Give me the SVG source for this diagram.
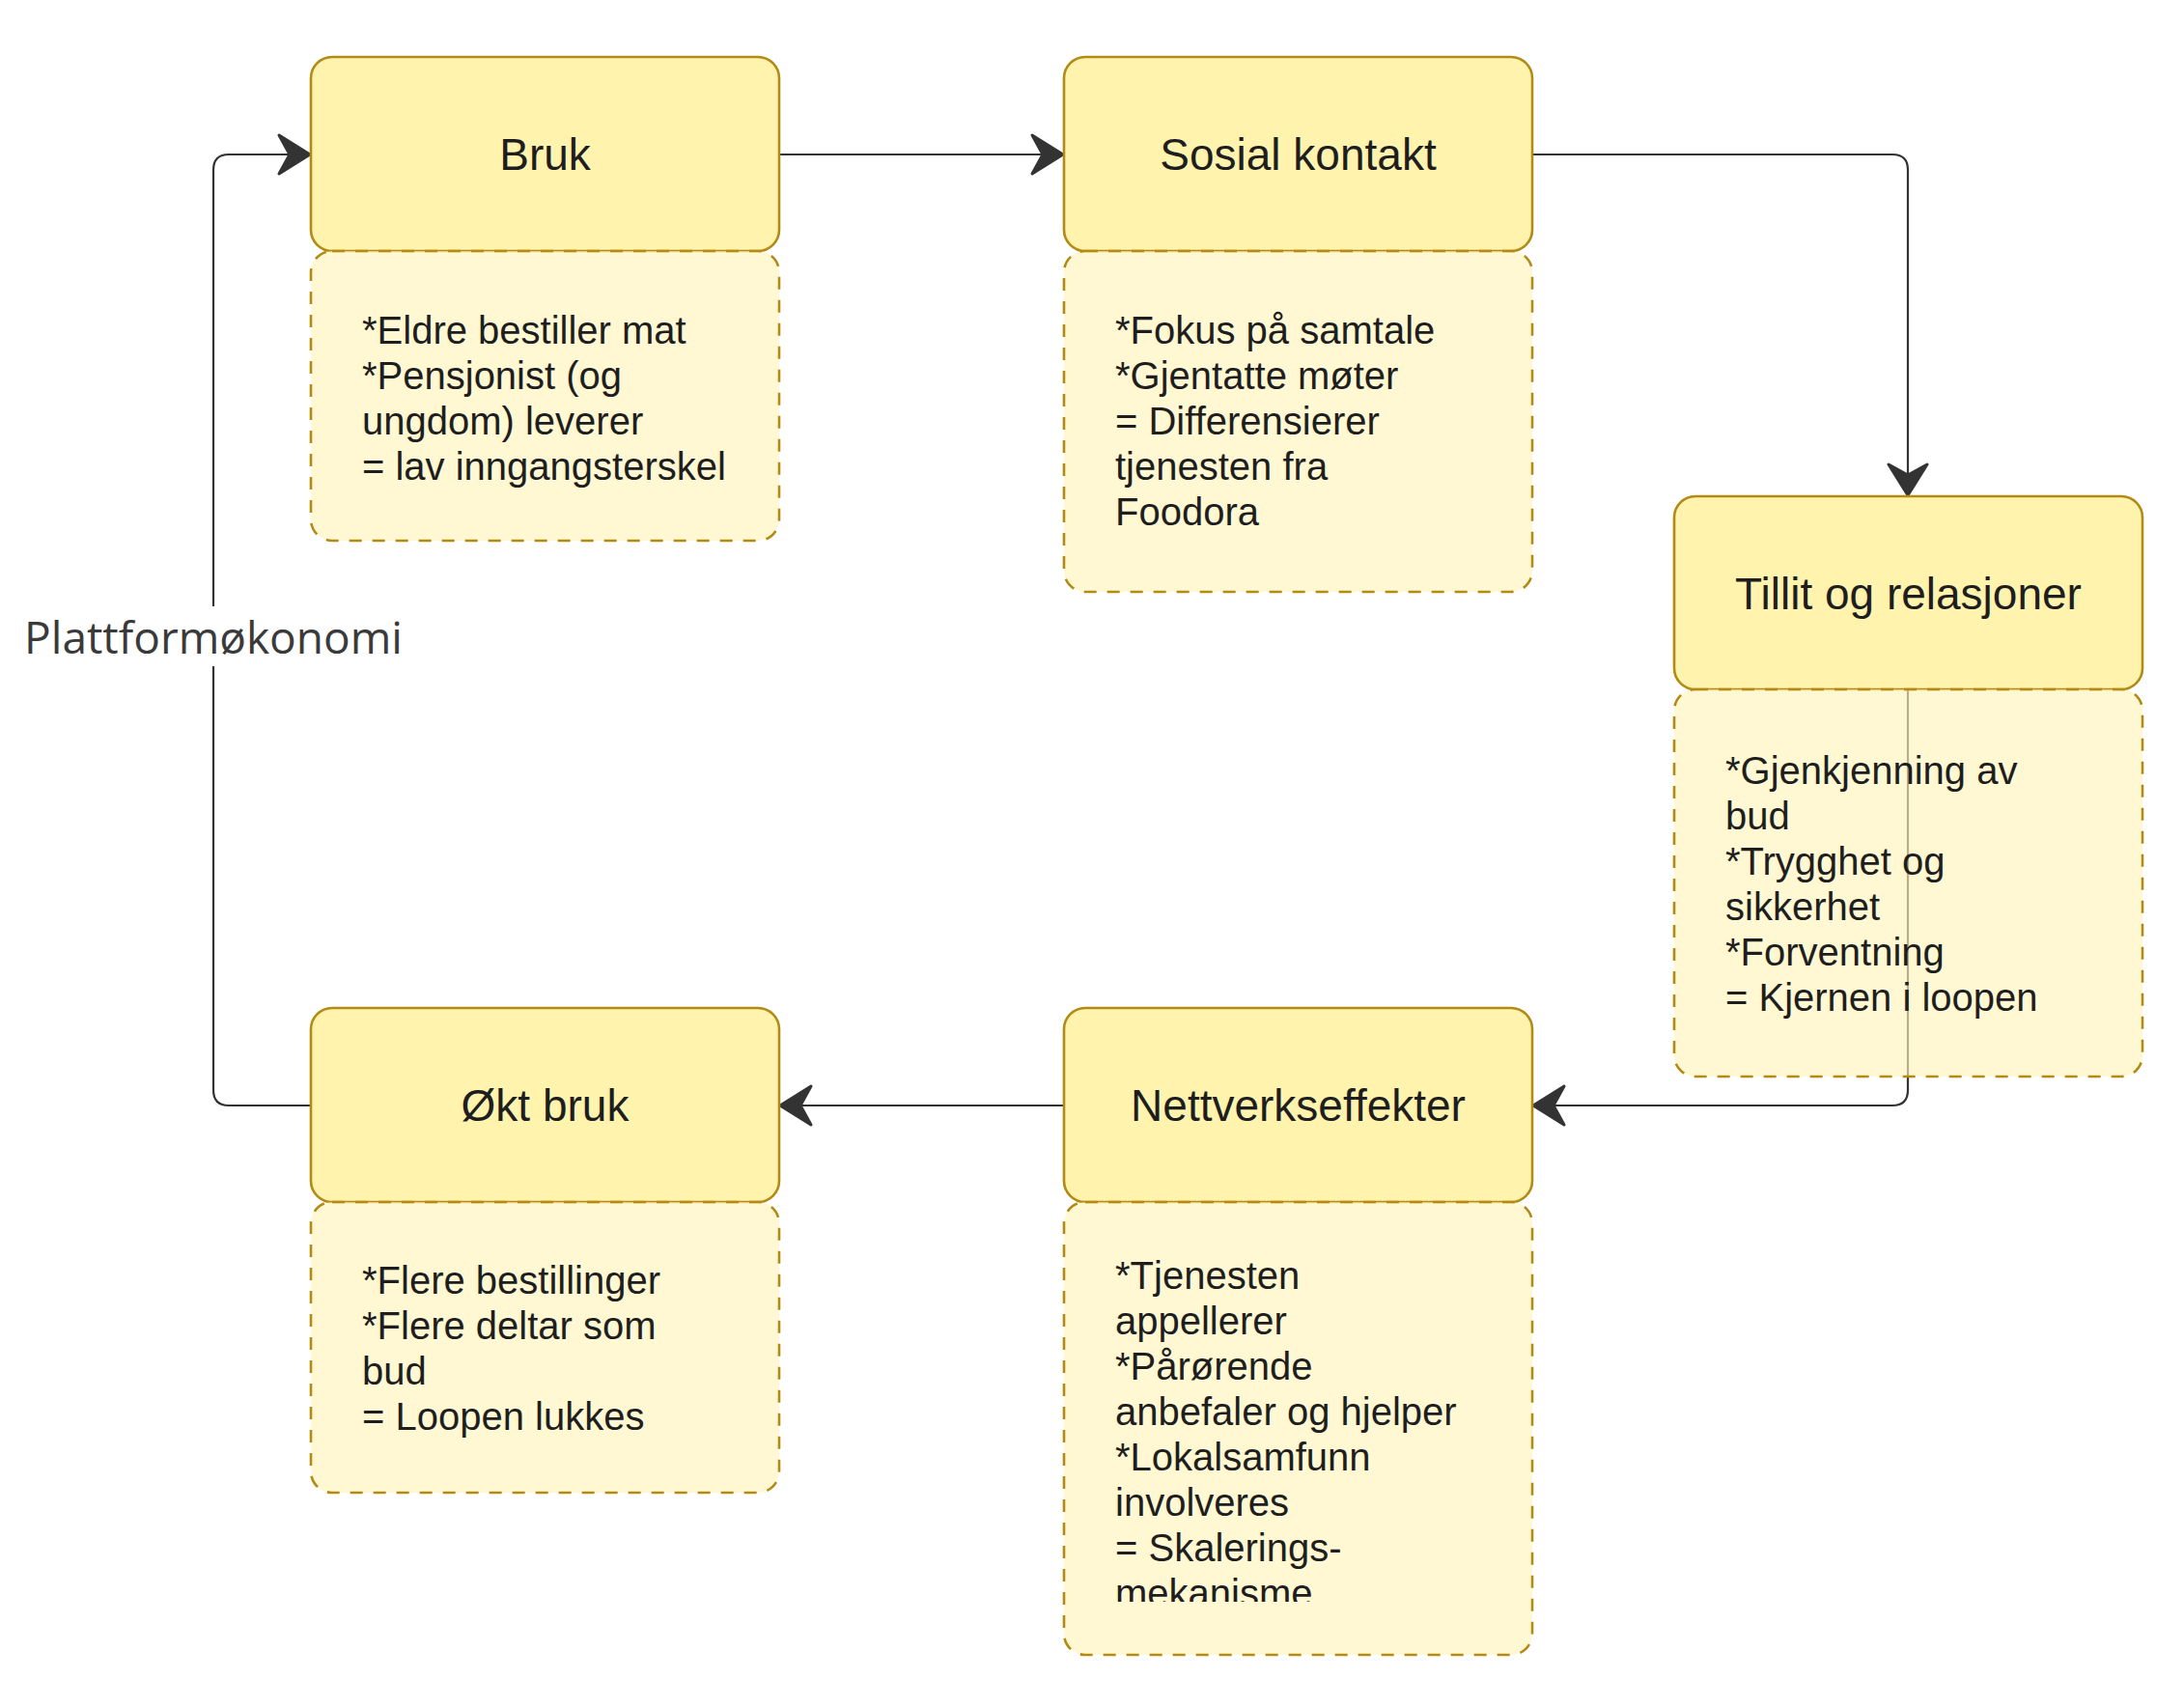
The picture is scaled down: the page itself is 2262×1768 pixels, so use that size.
<svg xmlns="http://www.w3.org/2000/svg" width="2262" height="1768" viewBox="0 0 2262 1768">
<style>
.main{fill:#FFF3AE;stroke:#B38B14;stroke-width:2.6}
.detail{fill:#FFF4BA;fill-opacity:0.65;stroke:#B38B14;stroke-width:2.6;stroke-dasharray:13 11}
.title{font-family:"Liberation Sans",Arial,sans-serif;font-size:46px;fill:#1e1e1e;text-anchor:middle}
.body{font-family:"Liberation Sans",Arial,sans-serif;font-size:40px;fill:#1e1e1e}
.edge{fill:none;stroke:#333;stroke-width:2.2}
.lbl{font-family:"Open Sans",sans-serif;font-size:46px;fill:#3a3a3a;text-anchor:middle}
</style>
<defs>
<marker id="arr" markerUnits="userSpaceOnUse" markerWidth="42" markerHeight="48" refX="35" refY="24" orient="auto">
<path d="M3,4 L35,24 L3,44 L14,24 Z" fill="#333" stroke="#333" stroke-width="3" stroke-linejoin="round"/>
</marker>
<clipPath id="clipN"><rect x="1102" y="1245" width="485" height="414"/></clipPath>
</defs>
<rect width="2262" height="1768" fill="#fff"/>
<g id="connectors">
<path class="edge" d="M322,1145 L237,1145 Q221,1145 221,1129 L221,176 Q221,160 237,160 L321,160" marker-end="url(#arr)"/>
<rect x="18" y="628" width="406" height="62" fill="#fff"/>
<text class="lbl" x="221" y="677">Plattformøkonomi</text>
<path class="edge" d="M807,160 L1101,160" marker-end="url(#arr)"/>
<path class="edge" d="M1587,160 L1960,160 Q1976,160 1976,176 L1976,513" marker-end="url(#arr)"/>
<path class="edge" d="M1976,714 L1976,1129 Q1976,1145 1960,1145 L1588,1145" marker-end="url(#arr)"/>
<path class="edge" d="M1102,1145 L808,1145" marker-end="url(#arr)"/>
</g>
<g id="bruk">
<rect class="main" x="322" y="59" width="485" height="201" rx="22"/>
<text class="title" x="564.5" y="176">Bruk</text>
</g>
<g id="bruk-detail">
<rect class="detail" x="322" y="260" width="485" height="300" rx="22"/>
<text class="body"><tspan x="375" y="356">*Eldre bestiller mat</tspan><tspan x="375" y="403">*Pensjonist (og</tspan><tspan x="375" y="450">ungdom) leverer</tspan><tspan x="375" y="497">= lav inngangsterskel</tspan></text>
</g>
<g id="sosial">
<rect class="main" x="1102" y="59" width="485" height="201" rx="22"/>
<text class="title" x="1344.5" y="176">Sosial kontakt</text>
</g>
<g id="sosial-detail">
<rect class="detail" x="1102" y="260" width="485" height="353" rx="22"/>
<text class="body"><tspan x="1155" y="356">*Fokus på samtale</tspan><tspan x="1155" y="403">*Gjentatte møter</tspan><tspan x="1155" y="450">= Differensierer</tspan><tspan x="1155" y="497">tjenesten fra</tspan><tspan x="1155" y="544">Foodora</tspan></text>
</g>
<g id="tillit">
<rect class="main" x="1734" y="514" width="485" height="200" rx="22"/>
<text class="title" x="1976.5" y="630.5">Tillit og relasjoner</text>
</g>
<g id="tillit-detail">
<rect class="detail" x="1734" y="714" width="485" height="401" rx="22"/>
<text class="body"><tspan x="1787" y="812">*Gjenkjenning av</tspan><tspan x="1787" y="859">bud</tspan><tspan x="1787" y="906">*Trygghet og</tspan><tspan x="1787" y="953">sikkerhet</tspan><tspan x="1787" y="1000">*Forventning</tspan><tspan x="1787" y="1047">= Kjernen i loopen</tspan></text>
</g>
<g id="nettverk">
<rect class="main" x="1102" y="1044" width="485" height="201" rx="22"/>
<text class="title" x="1344.5" y="1161">Nettverkseffekter</text>
</g>
<g id="nettverk-detail">
<rect class="detail" x="1102" y="1245" width="485" height="469" rx="22"/>
<text class="body" clip-path="url(#clipN)"><tspan x="1155" y="1335">*Tjenesten</tspan><tspan x="1155" y="1382">appellerer</tspan><tspan x="1155" y="1429">*Pårørende</tspan><tspan x="1155" y="1476">anbefaler og hjelper</tspan><tspan x="1155" y="1523">*Lokalsamfunn</tspan><tspan x="1155" y="1570">involveres</tspan><tspan x="1155" y="1617">= Skalerings-</tspan><tspan x="1155" y="1664">mekanisme</tspan></text>
</g>
<g id="okt-bruk">
<rect class="main" x="322" y="1044" width="485" height="201" rx="22"/>
<text class="title" x="564.5" y="1161">Økt bruk</text>
</g>
<g id="okt-bruk-detail">
<rect class="detail" x="322" y="1245" width="485" height="301" rx="22"/>
<text class="body"><tspan x="375" y="1340">*Flere bestillinger</tspan><tspan x="375" y="1387">*Flere deltar som</tspan><tspan x="375" y="1434">bud</tspan><tspan x="375" y="1481">= Loopen lukkes</tspan></text>
</g>
</svg>
